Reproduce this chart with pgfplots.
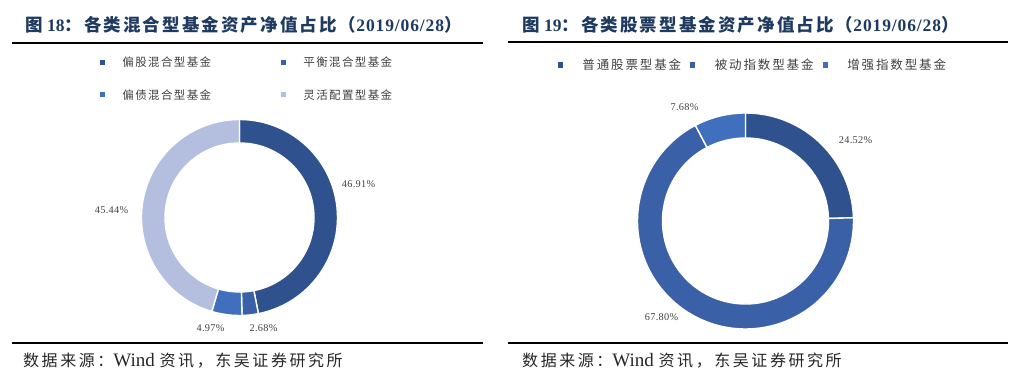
\documentclass[border=0pt]{standalone}
\usepackage{fontspec}
\setmainfont{Liberation Serif}
\newfontfamily\cjk{Noto Sans CJK SC}
\usepackage{pgfplots}
\usepackage{pgfplotstable}
\pgfplotsset{compat=1.18}

\definecolor{cA}{HTML}{2F528F}
\definecolor{cB}{HTML}{3A60A7}
\definecolor{cC}{HTML}{4070BD}
\definecolor{cD}{HTML}{B4BFDF}
\definecolor{titleblue}{HTML}{1F3A60}
\definecolor{lbl}{HTML}{404040}

% mixed funds: value, colour, label offset (pt) from the centre
\pgfplotstableread{
value col lx ly
46.91 cA 119 33
2.68  cB 24 -111
4.97  cC -29 -111
45.44 cD -128 7
}\mixtable

% equity funds
\pgfplotstableread{
value col lx ly
24.52 cA 110 81
67.80 cB -84 -96
7.68  cC -61 114
}\stocktable

\newcommand\lblfont{\fontsize{10.3}{12}\selectfont\addfontfeature{LetterSpace=3}}

\newcommand\donut[3]{%
  \pgfplotstablegetrowsof{#1}%
  \pgfmathtruncatemacro{\nrows}{\pgfplotsretval-1}%
  \def\cumsum{0}%
  \pgfmathsetmacro{\ring}{#2-#3}%
  \pgfplotsforeachungrouped \rowidx in {0,...,\nrows}{%
    \pgfplotstablegetelem{\rowidx}{value}\of{#1}\let\myval\pgfplotsretval
    \pgfplotstablegetelem{\rowidx}{col}\of{#1}\let\mycol\pgfplotsretval
    \pgfplotstablegetelem{\rowidx}{lx}\of{#1}\let\mylx\pgfplotsretval
    \pgfplotstablegetelem{\rowidx}{ly}\of{#1}\let\myly\pgfplotsretval
    \pgfmathsetmacro{\aA}{90-3.6*\cumsum}%
    \pgfmathsetmacro{\aB}{90-3.6*(\cumsum+\myval)}%
    \pgfmathsetmacro{\cumsum}{\cumsum+\myval}%
    \edef\doit{%
      \noexpand\fill[fill=\mycol, draw=white, line width=1.4pt] (axis cs:0,0) ++(\aA:#2pt)
        arc[start angle=\aA, end angle=\aB, radius=#2pt] -- ++(\aB:-\ring pt)
        arc[start angle=\aB, end angle=\aA, radius=#3pt] -- cycle;
      \noexpand\node[font=\noexpand\lblfont, text=lbl] at (axis cs:\mylx,\myly) {\myval\noexpand\%};
    }%
    \doit
  }%
}

\newcommand\titlecjk{\cjk\addfontfeature{LetterSpace=12}}
\newcommand\titlelat{\addfontfeature{LetterSpace=5}}
\newcommand\srccjk{\cjk\fontsize{16}{18}\selectfont\addfontfeature{LetterSpace=16}}
\newcommand\srctext{{\srccjk 数据来源：}{\fontsize{19}{20}\selectfont Wind }{\srccjk 资讯，东吴证券研究所}}

\begin{document}
\begin{tikzpicture}
\useasboundingbox (0,0) rectangle (1020pt,380pt);

% ---------- left panel ----------
\node[anchor=west, inner sep=0pt, text=titleblue, font=\fontsize{17.5}{19}\selectfont\bfseries] at (25pt,355pt)
  {{\titlecjk 图} 18{\titlecjk ：各类混合型基金资产净值占比（}{\titlelat 2019/06/28}{\cjk ）}};
\draw[line width=2pt] (12pt,337pt) -- (483pt,337pt);
\draw[line width=2pt] (12pt,37pt) -- (483pt,37pt);
\node[anchor=west, inner sep=0pt, text=black!85] at (23pt,19pt) {\srctext};

\begin{axis}[at={(239.5pt,162.5pt)}, anchor=center, hide axis, clip=false,
  x=1pt, y=1pt, xmin=-130, xmax=130, ymin=-130, ymax=130,
  legend columns=2,
  legend image code/.code={\fill[#1] (0pt,-2.6pt) rectangle (5.2pt,2.6pt);},
  legend style={draw=none, fill=none, inner sep=0pt, text=lbl,
    at={(axis description cs:-0.0385,1.12)}, anchor=north west,
    font=\cjk\fontsize{11.5}{14}\selectfont\addfontfeature{LetterSpace=12},
    nodes={inner sep=0pt, anchor=west},
    row sep=21.5pt,
    /tikz/every odd column/.append style={column sep=17.5pt},
    /tikz/every even column/.append style={column sep=69.5pt}}]
\addlegendimage{fill=cA, draw=none}\addlegendentry{偏股混合型基金}
\addlegendimage{fill=cB, draw=none}\addlegendentry{平衡混合型基金}
\addlegendimage{fill=cC, draw=none}\addlegendentry{偏债混合型基金}
\addlegendimage{fill=cD, draw=none}\addlegendentry{灵活配置型基金}
\donut{\mixtable}{98}{74.5}
\end{axis}

% ---------- right panel ----------
\node[anchor=west, inner sep=0pt, text=titleblue, font=\fontsize{17.5}{19}\selectfont\bfseries] at (522pt,355pt)
  {{\titlecjk 图} 19{\titlecjk ：各类股票型基金资产净值占比（}{\titlelat 2019/06/28}{\cjk ）}};
\draw[line width=2pt] (508pt,337.5pt) -- (1008pt,337.5pt);
\draw[line width=2pt] (508pt,37pt) -- (1008pt,37pt);
\node[anchor=west, inner sep=0pt, text=black!85] at (522pt,19pt) {\srctext};

\begin{axis}[at={(745.5pt,159pt)}, anchor=center, hide axis, clip=false,
  x=1pt, y=1pt, xmin=-130, xmax=130, ymin=-130, ymax=130,
  legend columns=3,
  legend image code/.code={\fill[#1] (0pt,-2.6pt) rectangle (5.2pt,2.6pt);},
  legend style={draw=none, fill=none, inner sep=0pt, text=lbl,
    at={(axis description cs:-0.223,1.1)}, anchor=west,
    font=\cjk\fontsize{12.5}{15}\selectfont\addfontfeature{LetterSpace=15},
    nodes={inner sep=0pt, anchor=west},
    /tikz/every odd column/.append style={column sep=19.5pt},
    /tikz/every even column/.append style={column sep=9pt}}]
\addlegendimage{fill=cA, draw=none}\addlegendentry{普通股票型基金}
\addlegendimage{fill=cB, draw=none}\addlegendentry{被动指数型基金}
\addlegendimage{fill=cC, draw=none}\addlegendentry{增强指数型基金}
\donut{\stocktable}{108}{83}
\end{axis}
\end{tikzpicture}
\end{document}
